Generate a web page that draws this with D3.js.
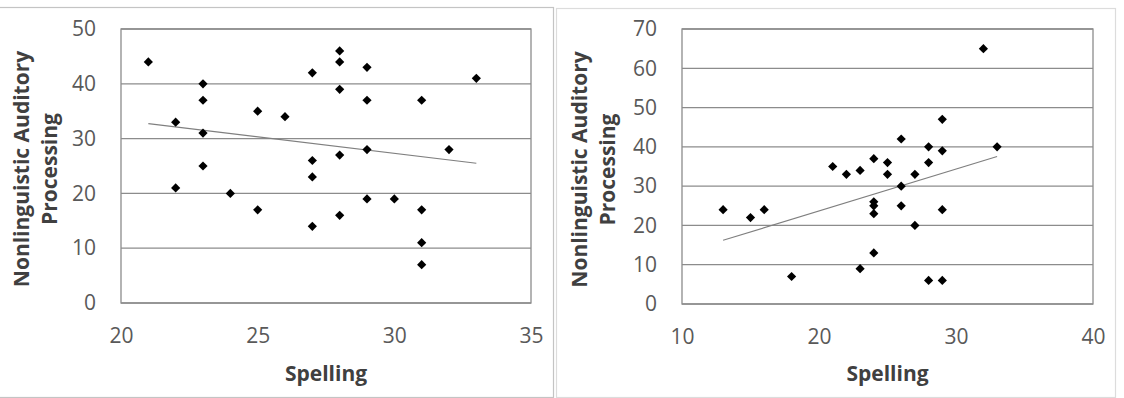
<!DOCTYPE html>
<html>
<head>
<meta charset="utf-8">
<script src="https://cdn.jsdelivr.net/npm/d3@7"></script>
<style>
  body { margin: 0; background: #fff; }
  svg text { font-family: "Open Sans", sans-serif; }
</style>
</head>
<body>
<div id="chart-area"></div>
<script>
// data
const spellingLeft = [21, 22, 22, 23, 23, 23, 23, 24, 25, 25, 26, 27, 27, 27, 27, 28, 28, 28, 28, 28, 29, 29, 29, 29, 30, 31, 31, 31, 31, 32, 33];
const auditoryLeft = [44, 33, 21, 40, 37, 31, 25, 20, 35, 17, 34, 42, 26, 23, 14, 46, 44, 39, 27, 16, 43, 37, 28, 19, 19, 37, 17, 11, 7, 28, 41];
const spellingRight = [13, 15, 16, 18, 21, 22, 23, 23, 24, 24, 24, 24, 24, 25, 25, 26, 26, 26, 27, 27, 28, 28, 28, 29, 29, 29, 29, 32, 33];
const auditoryRight = [24, 22, 24, 7, 35, 33, 34, 9, 37, 26, 25, 23, 13, 36, 33, 42, 30, 25, 33, 20, 40, 36, 6, 47, 39, 24, 6, 65, 40];
const xTicksLeft = [20, 25, 30, 35];
const yTicksLeft = [0, 10, 20, 30, 40, 50];
const xTicksRight = [10, 20, 30, 40];
const yTicksRight = [0, 10, 20, 30, 40, 50, 60, 70];
const xTitle = "Spelling";
const yTitle = ["Nonlinguistic Auditory", "Processing"];

const chartSize = { width: 1124, height: 398 };
const gridColor = "#8c8c8c";
const labelColor = "#595959";

// least squares fit, like the Excel linear trendline
const trend = (xs, ys) => {
  const mx = d3.mean(xs);
  const my = d3.mean(ys);
  const sxy = d3.sum(xs, (v, i) => (v - mx) * (ys[i] - my));
  const sxx = d3.sum(xs, v => (v - mx) * (v - mx));
  const slope = sxy / sxx;
  return v => my + slope * (v - mx);
};

const diamond = r => `M0,${-r}L${r},0L0,${r}L${-r},0Z`;

const drawPanel = (svg, panel) => {
  const { frame, plot } = panel;

  svg.append("rect")
    .attr("x", frame.left + 0.5)
    .attr("y", frame.top + 0.5)
    .attr("width", frame.right - frame.left)
    .attr("height", frame.bottom - frame.top)
    .attr("fill", "#fff")
    .attr("stroke", frame.stroke)
    .attr("stroke-width", 1.2);

  const x = d3.scaleLinear()
    .domain(d3.extent(panel.xTicks))
    .range([plot.left, plot.right]);
  const y = d3.scaleLinear()
    .domain(d3.extent(panel.yTicks))
    .range([plot.bottom, plot.top]);

  const g = svg.append("g");

  g.selectAll(".grid")
    .data(panel.yTicks)
    .enter()
    .append("line")
    .attr("class", "grid")
    .attr("x1", plot.left)
    .attr("x2", plot.right)
    .attr("y1", d => y(d))
    .attr("y2", d => y(d))
    .attr("stroke", gridColor)
    .attr("stroke-width", 1.3);

  g.append("rect")
    .attr("x", plot.left)
    .attr("y", plot.top)
    .attr("width", plot.right - plot.left)
    .attr("height", plot.bottom - plot.top)
    .attr("fill", "none")
    .attr("stroke", gridColor)
    .attr("stroke-width", 1.3);

  const yAxis = d3.axisLeft(y).tickValues(panel.yTicks).tickSize(0).tickPadding(25);
  const xAxis = d3.axisBottom(x).tickValues(panel.xTicks).tickSize(0).tickPadding(25);

  g.append("g")
    .attr("transform", `translate(${plot.left},0)`)
    .call(yAxis);
  g.append("g")
    .attr("transform", `translate(0,${plot.bottom})`)
    .call(xAxis);

  g.selectAll(".domain").remove();
  g.selectAll(".tick text")
    .attr("font-family", "'Open Sans', sans-serif")
    .attr("font-size", 21)
    .attr("fill", labelColor);

  const fit = trend(panel.xs, panel.ys);
  const [x0, x1] = d3.extent(panel.xs);
  g.append("line")
    .attr("x1", x(x0))
    .attr("y1", y(fit(x0)))
    .attr("x2", x(x1))
    .attr("y2", y(fit(x1)))
    .attr("stroke", "#7f7f7f")
    .attr("stroke-width", 1.1);

  g.selectAll(".pt")
    .data(panel.xs.map((v, i) => [v, panel.ys[i]]))
    .enter()
    .append("path")
    .attr("class", "pt")
    .attr("d", diamond(4.6))
    .attr("transform", d => `translate(${x(d[0])},${y(d[1])})`)
    .attr("fill", "#000");

  g.append("text")
    .attr("x", (plot.left + plot.right) / 2)
    .attr("y", 381)
    .attr("text-anchor", "middle")
    .attr("font-size", 21)
    .attr("font-weight", "bold")
    .attr("fill", "#404040")
    .text(xTitle);

  const titleCenter = (plot.top + plot.bottom) / 2 + 3;
  g.selectAll(".ytitle")
    .data(yTitle)
    .enter()
    .append("text")
    .attr("class", "ytitle")
    .attr("transform", (d, i) => `translate(${frame.left + 31 + i * 28},${titleCenter}) rotate(-90)`)
    .attr("text-anchor", "middle")
    .attr("font-size", 21)
    .attr("font-weight", "bold")
    .attr("fill", "#404040")
    .text(d => d);
};

const main = () => {
  const svg = d3.select("#chart-area")
    .append("svg")
    .attr("width", chartSize.width)
    .attr("height", chartSize.height);

  drawPanel(svg, {
    xs: spellingLeft,
    ys: auditoryLeft,
    xTicks: xTicksLeft,
    yTicks: yTicksLeft,
    frame: { left: -2, right: 553, top: 7, bottom: 397, stroke: "#c4c4c4" },
    plot: { left: 121, right: 531, top: 29, bottom: 303 }
  });

  drawPanel(svg, {
    xs: spellingRight,
    ys: auditoryRight,
    xTicks: xTicksRight,
    yTicks: yTicksRight,
    frame: { left: 556, right: 1115, top: 8, bottom: 397, stroke: "#dcdcdc" },
    plot: { left: 682, right: 1093, top: 29, bottom: 304 }
  });
};

main();
</script>
</body>
</html>
